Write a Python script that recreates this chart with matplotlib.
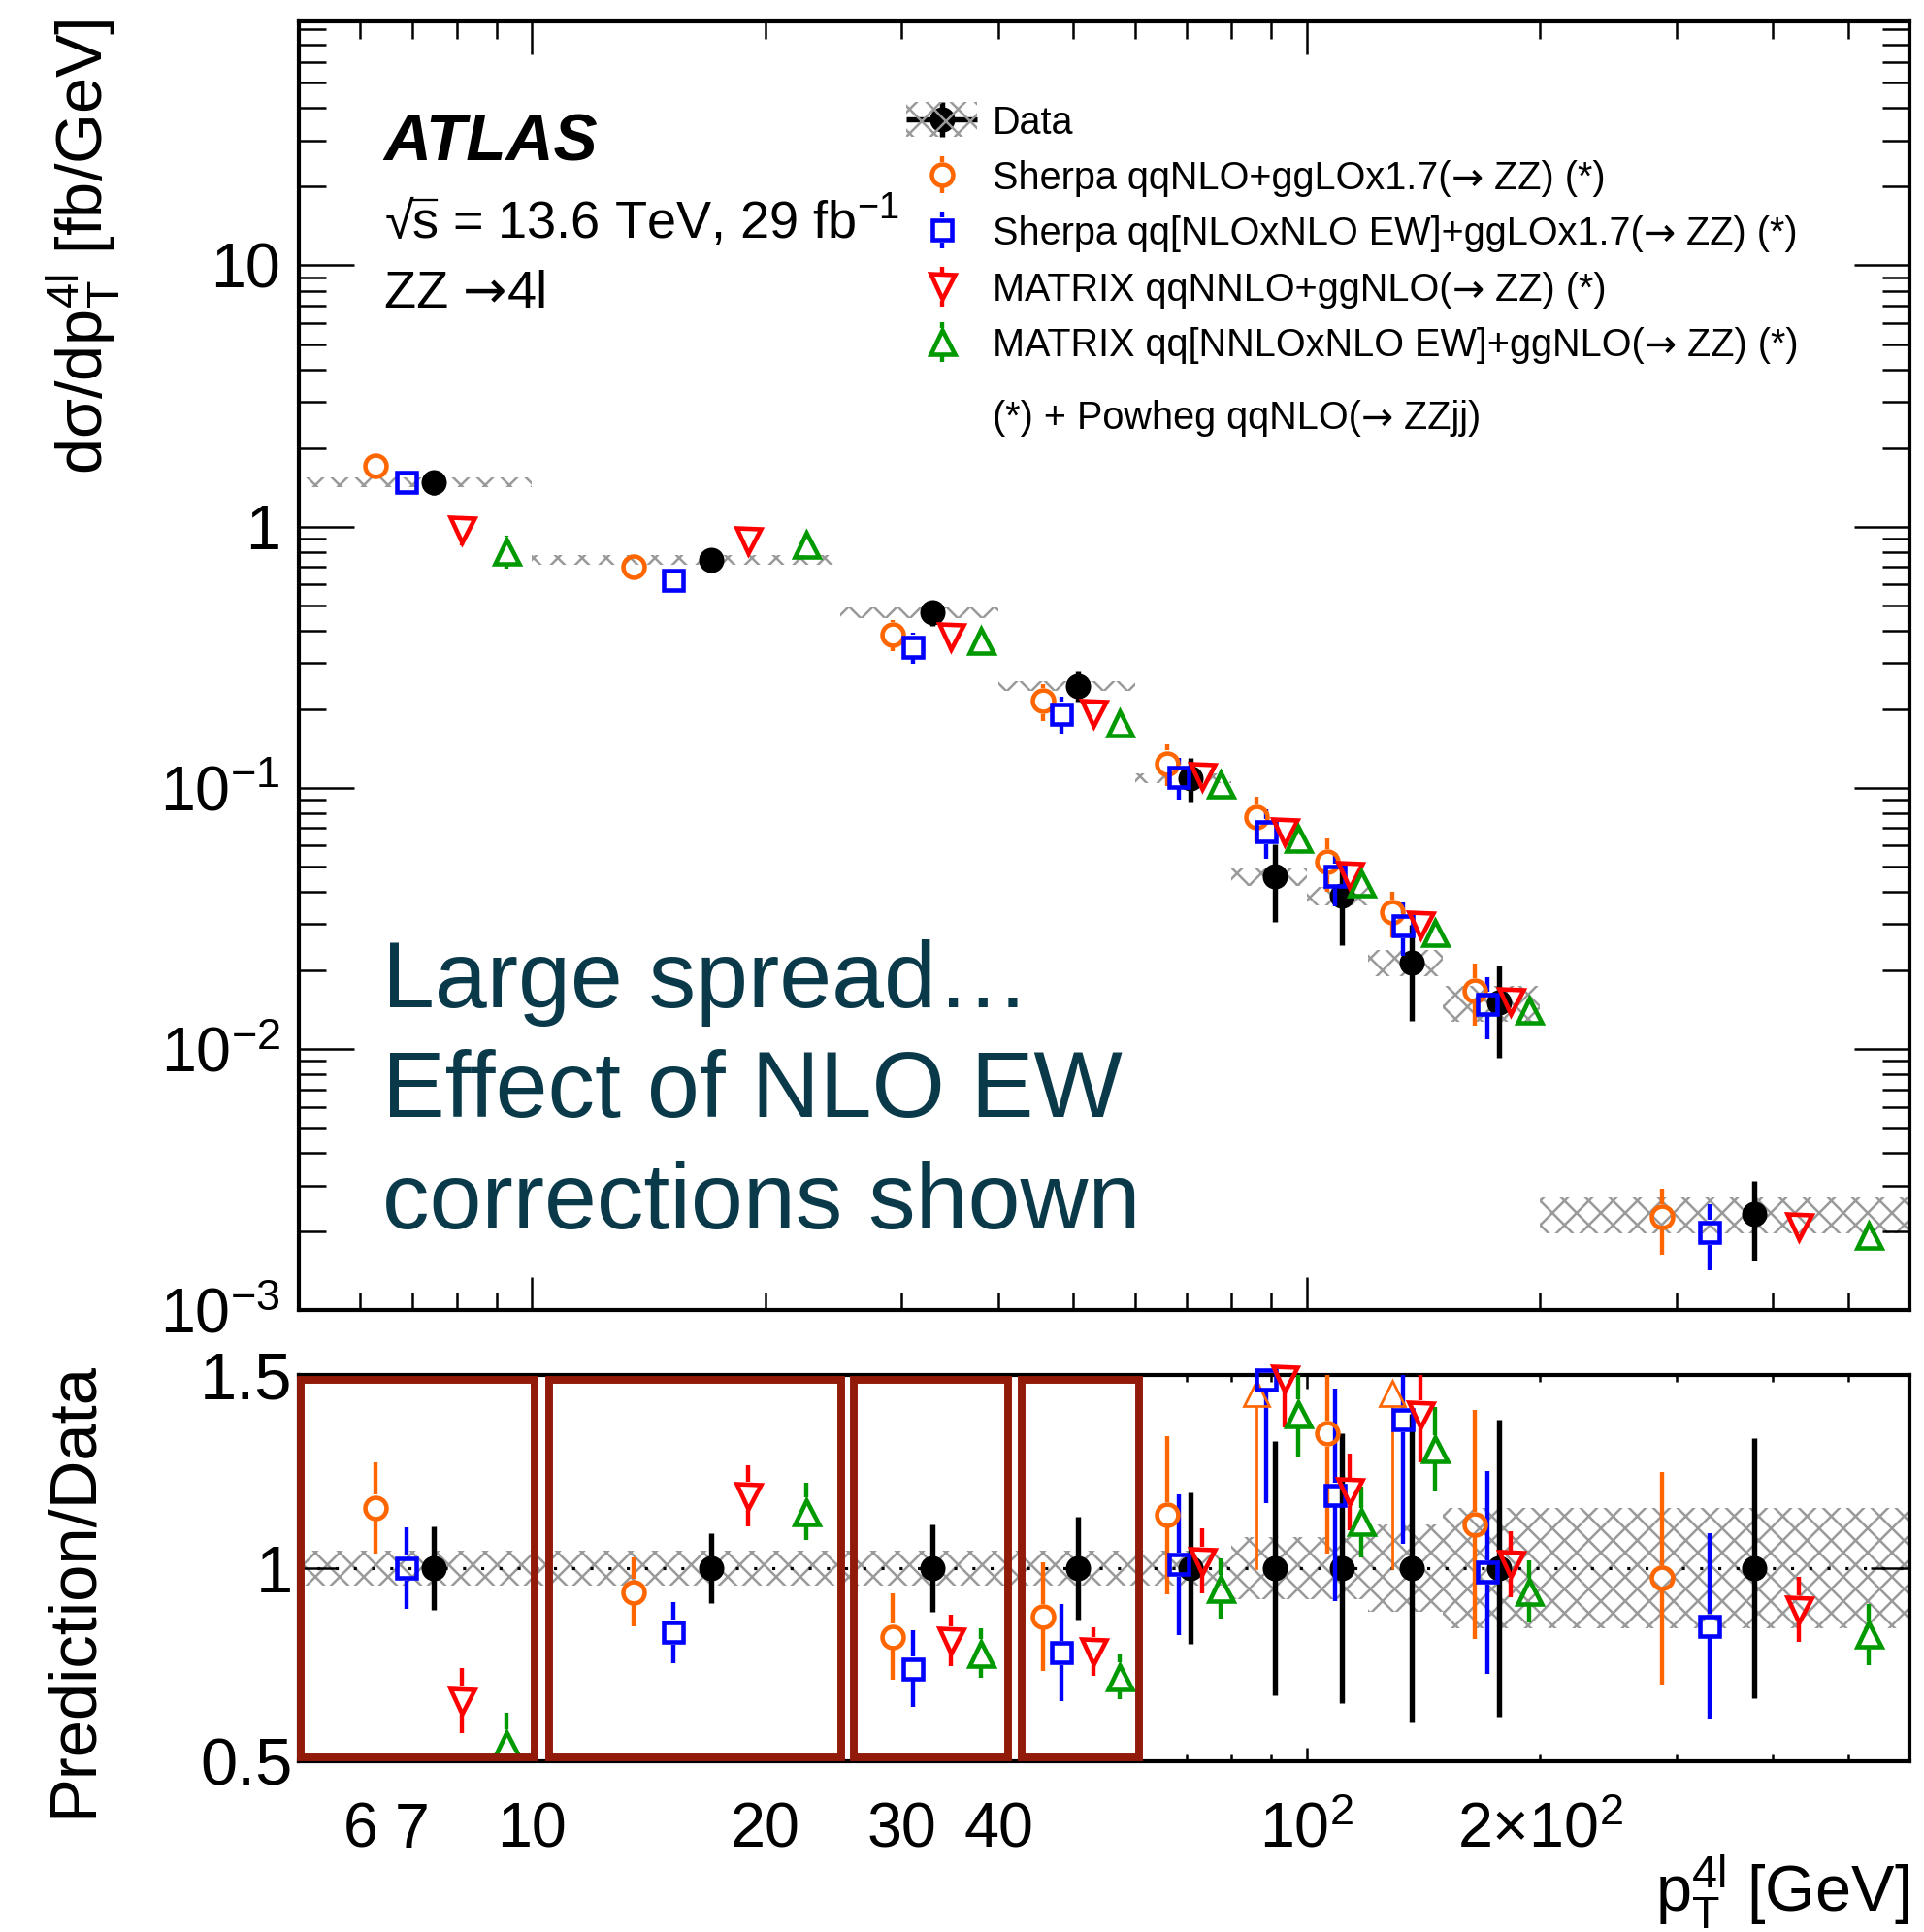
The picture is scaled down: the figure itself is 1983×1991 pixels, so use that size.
import numpy as np
import matplotlib
matplotlib.use("Agg")
import matplotlib.pyplot as plt
from matplotlib.ticker import FixedLocator, FixedFormatter, NullFormatter
from matplotlib.transforms import blended_transform_factory
from matplotlib.patches import Rectangle

plt.rcParams["font.family"] = ["Liberation Sans", "DejaVu Sans"]
plt.rcParams["mathtext.fontset"] = "custom"
plt.rcParams["mathtext.rm"] = "Liberation Sans"
plt.rcParams["mathtext.it"] = "Liberation Sans:italic"
plt.rcParams["mathtext.bf"] = "Liberation Sans:bold"
plt.rcParams["mathtext.sf"] = "Liberation Sans"
plt.rcParams["hatch.linewidth"] = 1.2

# ---------------------------------------------------------------- data
# pT(4l) bin edges [GeV]
bin_edges = [5, 10, 25, 40, 60, 80, 100, 120, 150, 200, 600]

# measured dsigma/dpT [fb/GeV] with relative stat. (bars) and syst. (band) uncertainties
data_xs = [1.48, 0.746, 0.468, 0.246, 0.109, 0.0457, 0.0385, 0.0214, 0.0150, 0.00233]
data_stat = [0.107, 0.090, 0.112, 0.132, 0.195, 0.33, 0.35, 0.40, 0.385, 0.337]
data_syst = [0.044, 0.044, 0.044, 0.044, 0.044, 0.08, 0.08, 0.113, 0.157, 0.157]

# predictions [fb/GeV] and their relative uncertainties
sherpa = [1.712, 0.700, 0.385, 0.215, 0.124, 0.0772, 0.0519, 0.0334, 0.0167, 0.00227]
sherpa_err = [0.102, 0.094, 0.136, 0.160, 0.180, 0.200, 0.230, 0.200, 0.266, 0.283]
sherpa_ew = [1.48, 0.622, 0.346, 0.192, 0.110, 0.0680, 0.0458, 0.0296, 0.01484, 0.00198]
sherpa_ew_err = [0.105, 0.095, 0.135, 0.161, 0.181, 0.215, 0.231, 0.231, 0.266, 0.284]
matrix = [0.972, 0.885, 0.380, 0.193, 0.111, 0.0681, 0.0461, 0.0299, 0.01515, 0.00208]
matrix_err = [0.129, 0.067, 0.082, 0.080, 0.082, 0.084, 0.083, 0.088, 0.084, 0.095]
matrix_ew = [0.807, 0.855, 0.365, 0.177, 0.1032, 0.0640, 0.0431, 0.0280, 0.01409, 0.00193]
matrix_ew_err = [0.147, 0.065, 0.082, 0.082, 0.082, 0.079, 0.082, 0.084, 0.085, 0.096]

ARROW = "\u2192"
legend_labels = [
    "Data",
    "Sherpa qqNLO+ggLOx1.7(" + ARROW + " ZZ) (*)",
    "Sherpa qq[NLOxNLO EW]+ggLOx1.7(" + ARROW + " ZZ) (*)",
    "MATRIX qqNNLO+ggNLO(" + ARROW + " ZZ) (*)",
    "MATRIX qq[NNLOxNLO EW]+ggNLO(" + ARROW + " ZZ) (*)",
]
footnote = "(*) + Powheg qqNLO(" + ARROW + " ZZjj)"

# ---------------------------------------------------------------- style
W_PX, H_PX, DPI = 1983, 1991, 150
PX_PER_PT = DPI / 72.0
ORANGE, BLUE, RED, GREEN = "#ff6600", "#0000ff", "#ff0000", "#009900"
BAND = "#9a9a9a"
HATCH = "xx"
BOX = "#911a08"
TEAL = "#0a3a4a"
MEW = 2.2
ELW_DATA, ELW_PRED = 2.6, 2.1

# (values, rel. err, colour, marker, size, position inside the bin in log-x)
series = [
    (sherpa, sherpa_err, ORANGE, "o", 10.5, 0.33),
    (sherpa_ew, sherpa_ew_err, BLUE, "s", 10.0, 0.46),
    (matrix, matrix_err, RED, "v", 12.0, 0.70),
    (matrix_ew, matrix_ew_err, GREEN, "^", 12.0, 0.89),
]
DATA_FRAC = 0.58
DATA_MS = 12.5

edges = np.array(bin_edges, float)
dxs = np.array(data_xs)
dstat = np.array(data_stat)
dsyst = np.array(data_syst)
nb = len(dxs)


def xpos(frac):
    le = np.log10(edges)
    return 10 ** (le[:-1] + frac * (le[1:] - le[:-1]))


def gap_for(mk, ms):
    if mk in ("v", "^"):
        return 0.5 * ms * PX_PER_PT + 2
    return 0.5 * (ms + MEW) * PX_PER_PT


fig = plt.figure(figsize=(W_PX / DPI, H_PX / DPI), dpi=DPI)
ax = fig.add_axes([0.15532, 0.32195, 0.83712, 0.66700])
rx = fig.add_axes([0.15532, 0.08840, 0.83712, 0.19990])

ax.set_xscale("log")
ax.set_yscale("log")
ax.set_xlim(5, 600)
ax.set_ylim(1e-3, 86)
rx.set_xscale("log")
rx.set_xlim(5, 600)
rx.set_ylim(0.5, 1.5)


def vbar(a, x, lo, hi, c, color, lw, gap_px, clip=True, z=3):
    """Vertical error bar that leaves a gap of gap_px around the marker."""
    T = a.transData
    inv = T.inverted()
    xd, cd = T.transform((x, c))
    lod = T.transform((x, lo))[1]
    hid = T.transform((x, hi))[1]
    segs = []
    if gap_px > 0:
        if lod < cd - gap_px:
            segs.append((lod, cd - gap_px))
        if hid > cd + gap_px:
            segs.append((cd + gap_px, hid))
    else:
        segs.append((lod, hid))
    for s0, s1 in segs:
        y0 = inv.transform((xd, s0))[1]
        y1 = inv.transform((xd, s1))[1]
        a.plot([x, x], [y0, y1], color=color, lw=lw, solid_capstyle="butt",
               clip_on=clip, zorder=z)


# ---------------------------------------------------------------- upper panel
for i in range(nb):
    ax.fill_between([edges[i], edges[i + 1]], dxs[i] * (1 - dsyst[i]),
                    dxs[i] * (1 + dsyst[i]), facecolor="none", edgecolor=BAND,
                    hatch=HATCH, linewidth=0, zorder=1)

xd = xpos(DATA_FRAC)
for i in range(nb):
    vbar(ax, xd[i], dxs[i] * (1 - dstat[i]), dxs[i] * (1 + dstat[i]), dxs[i],
         "black", ELW_DATA, 0, z=3)
ax.plot(xd, dxs, ls="none", marker="o", ms=DATA_MS, color="black", mew=0, zorder=4)

for vals, err, col, mk, ms, frac in series:
    v = np.array(vals)
    e = np.array(err)
    xp = xpos(frac)
    g = gap_for(mk, ms)
    for i in range(nb):
        vbar(ax, xp[i], v[i] * (1 - e[i]), v[i] * (1 + e[i]), v[i], col, ELW_PRED, g, z=5)
    ax.plot(xp, v, ls="none", marker=mk, ms=ms, mfc="none", mec=col, mew=MEW, zorder=6)

# ---------------------------------------------------------------- ratio panel
for i in range(nb):
    rx.fill_between([edges[i], edges[i + 1]], 1 - dsyst[i], 1 + dsyst[i],
                    facecolor="none", edgecolor=BAND, hatch=HATCH, linewidth=0, zorder=1)
rx.axhline(1.0, color="black", lw=1.5, ls=(0, (1, 5)), zorder=2)

for i in range(nb):
    vbar(rx, xd[i], 1 - dstat[i], 1 + dstat[i], 1.0, "black", ELW_DATA, 0, z=3)
rx.plot(xd, np.ones(nb), ls="none", marker="o", ms=DATA_MS, color="black", mew=0,
        zorder=4, clip_on=False)

for vals, err, col, mk, ms, frac in series:
    r = np.array(vals) / dxs
    e = np.array(err) * r
    xp = xpos(frac)
    g = gap_for(mk, ms)
    for i in range(nb):
        if r[i] > 1.5:
            # off-scale point: arrow pointing upwards
            rx.plot([xp[i], xp[i]], [1.0, 1.414], color=col, lw=1.3, zorder=5)
            rx.plot([xp[i]], [1.452], marker="^", ms=12.5, mfc="none", mec=col,
                    mew=1.3, zorder=6, clip_on=False)
            continue
        vbar(rx, xp[i], r[i] - e[i], r[i] + e[i], r[i], col, ELW_PRED, g, z=5)
        rx.plot([xp[i]], [r[i]], ls="none", marker=mk, ms=ms, mfc="none", mec=col,
                mew=MEW, zorder=6, clip_on=False)

# highlighted low-pT region
boxes = [(5.03, 10.08), (10.52, 25.06), (26.03, 41.16), (42.85, 60.76)]
btr = blended_transform_factory(rx.transData, rx.transAxes)
for x0, x1 in boxes:
    rx.add_patch(Rectangle((x0, 0.011), x1 - x0, 0.977, transform=btr,
                           facecolor="none", edgecolor=BOX, lw=3.8, zorder=7,
                           clip_on=False))

# ---------------------------------------------------------------- axes cosmetics
minor_x = [6, 7, 8, 9, 20, 30, 40, 50, 60, 70, 80, 90, 200, 300, 400, 500]
minor_x_labels = {6: "6", 7: "7", 20: "20", 30: "30", 40: "40",
                  200: r"$\mathregular{2{\times}10^{2}}$"}
for a in (ax, rx):
    a.xaxis.set_major_locator(FixedLocator([10, 100]))
    a.xaxis.set_minor_locator(FixedLocator(minor_x))
    for s in a.spines.values():
        s.set_linewidth(2.0)
    a.tick_params(which="both", direction="in", top=True, right=True, width=1.2)

ax.xaxis.set_major_formatter(NullFormatter())
ax.xaxis.set_minor_formatter(NullFormatter())
ax.tick_params(axis="x", which="major", length=16.5)
ax.tick_params(axis="x", which="minor", length=8.5)

yt = [1e-3, 1e-2, 1e-1, 1, 10]
ax.yaxis.set_major_locator(FixedLocator(yt))
ax.yaxis.set_major_formatter(FixedFormatter([r"$\mathregular{10^{-3}}$",
                                             r"$\mathregular{10^{-2}}$",
                                             r"$\mathregular{10^{-1}}$", "1", "10"]))
ax.yaxis.set_minor_locator(FixedLocator([m * 10.0 ** d for d in range(-3, 2)
                                         for m in range(2, 10) if m * 10.0 ** d < 86]))
ax.yaxis.set_minor_formatter(NullFormatter())
ax.tick_params(axis="y", which="major", length=27.5, labelsize=31, pad=9)
ax.tick_params(axis="y", which="minor", length=13.5)

rx.xaxis.set_major_formatter(FixedFormatter(["10", r"$\mathregular{10^{2}}$"]))
rx.xaxis.set_minor_formatter(FixedFormatter([minor_x_labels.get(v, "") for v in minor_x]))
rx.tick_params(axis="x", which="major", length=6.7, labelsize=31, pad=20)
rx.tick_params(axis="x", which="minor", length=3.4, labelsize=31, pad=20)
rx.yaxis.set_major_locator(FixedLocator([0.5, 1.0, 1.5]))
rx.yaxis.set_major_formatter(FixedFormatter(["0.5", "1", "1.5"]))
rx.yaxis.set_minor_locator(FixedLocator([]))
rx.tick_params(axis="y", which="major", length=19, labelsize=33, pad=3)

# axis titles
fig.text(0.0433, 0.9905, "d\u03c3/dp$_{\\mathregular{T}}^{\\mathregular{4l}}$ [fb/GeV]",
         rotation=90, ha="center", va="top", fontsize=32)
fig.text(0.0383, 0.2954, "Prediction/Data", rotation=90, ha="center", va="top",
         fontsize=33)
fig.text(0.9924, 0.0105, "p$_{\\mathregular{T}}^{\\mathregular{4l}}$ [GeV]",
         ha="right", va="baseline", fontsize=32)


# ---------------------------------------------------------------- labels
def fpt(xp, yp):
    return xp / W_PX, 1 - yp / H_PX


renderer = fig.canvas.get_renderer()
to_fig = fig.transFigure.inverted()


def seq_text(xp, yp, s, **kw):
    """Write s from (xp, yp); arrows are set in DejaVu Sans, the rest in Liberation Sans."""
    fx, fy = fpt(xp, yp)
    pieces = []
    for k, chunk in enumerate(s.split(ARROW)):
        if k > 0:
            pieces.append((ARROW, "DejaVu Sans"))
        if chunk:
            pieces.append((chunk, "Liberation Sans"))
    for txt, fam in pieces:
        t = fig.text(fx, fy, txt, family=fam, **kw)
        bb = t.get_window_extent(renderer)
        fx = to_fig.transform((bb.x1, bb.y0))[0]
    return fx


fx, fy = fpt(395, 165)
fig.text(fx, fy, "ATLAS", fontsize=32.5, fontweight="bold", fontstyle="italic",
         va="baseline")

# centre-of-mass energy line, with the radical's bar drawn over the "s"
fx, fy = fpt(397, 246)
t_rad = fig.text(fx, fy, "\u221a", fontsize=26, va="baseline")
bb_rad = t_rad.get_window_extent(renderer)
fx_s = to_fig.transform((bb_rad.x1, bb_rad.y0))[0] - 0.0012
t_s = fig.text(fx_s, fy, "s", fontsize=26, va="baseline")
bb_s = t_s.get_window_extent(renderer)
fx_r = to_fig.transform((bb_s.x1, bb_s.y0))[0]
bar_y = fy + 0.74 * 26 * PX_PER_PT / H_PX
ax.plot([fx_s, fx_r - 0.001], [bar_y, bar_y], color="black", lw=1.1,
        transform=fig.transFigure, clip_on=False)
fig.text(fx_r, fy, " = 13.6 TeV, 29 fb$^{\\mathregular{-1}}$", fontsize=26,
         va="baseline")
seq_text(396, 317, "ZZ " + ARROW + "4l", fontsize=26, va="baseline")

for txt, yb in [("Large spread\u2026", 1038), ("Effect of NLO EW", 1151),
                ("corrections shown", 1266)]:
    fx, fy = fpt(394, yb)
    fig.text(fx, fy, txt, fontsize=46.5, color=TEAL, va="baseline")

# ---------------------------------------------------------------- legend
leg_x, txt_x = 971, 1023
rows = [123, 180, 237, 295, 352]
ft = fig.transFigure


def fline(xs, ys, **kw):
    pts = [fpt(x, y) for x, y in zip(xs, ys)]
    ax.plot([p[0] for p in pts], [p[1] for p in pts], transform=ft, clip_on=False, **kw)


y0 = rows[0]
bx0, by0 = fpt(934, y0 + 18)
bx1, by1 = fpt(1007, y0 - 18)
fig.add_artist(Rectangle((bx0, by0), bx1 - bx0, by1 - by0, transform=ft,
                         facecolor="none", edgecolor=BAND, hatch=HATCH, linewidth=0))
fline([934, 1007], [y0, y0], color="black", lw=ELW_DATA, solid_capstyle="butt")
fline([leg_x, leg_x], [y0 - 18, y0 + 18], color="black", lw=ELW_DATA,
      solid_capstyle="butt")
fline([leg_x], [y0], ls="none", marker="o", ms=DATA_MS, color="black", mew=0)
seq_text(txt_x, y0, legend_labels[0], fontsize=19, va="center_baseline")

for (vals, err, col, mk, ms, frac), lab, yr in zip(series, legend_labels[1:], rows[1:]):
    g = gap_for(mk, ms)
    fline([leg_x, leg_x], [yr - g - 6, yr - g], color=col, lw=ELW_PRED,
          solid_capstyle="butt")
    fline([leg_x, leg_x], [yr + g, yr + g + 6], color=col, lw=ELW_PRED,
          solid_capstyle="butt")
    fline([leg_x], [yr], ls="none", marker=mk, ms=ms, mfc="none", mec=col, mew=MEW)
    seq_text(txt_x, yr, lab, fontsize=19, va="center_baseline")

seq_text(txt_x, 427, footnote, fontsize=19, va="center_baseline")

fig.savefig("out.png", dpi=DPI)
